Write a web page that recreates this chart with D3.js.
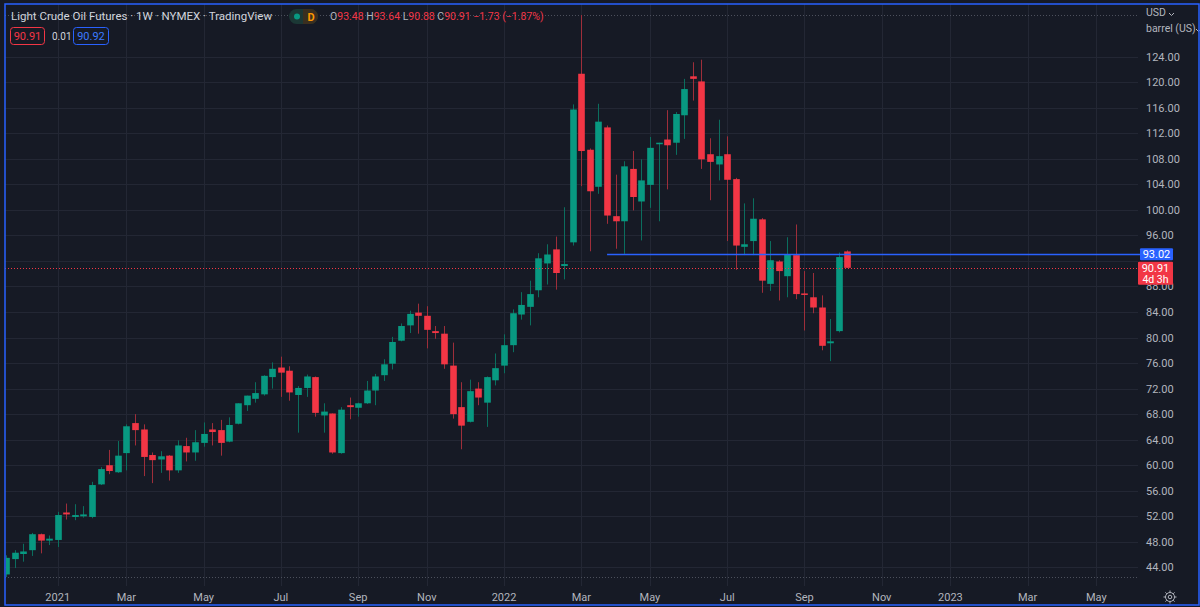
<!DOCTYPE html>
<html>
<head>
<meta charset="utf-8">
<script src="https://cdn.jsdelivr.net/npm/d3@7"></script>
<style>
    html, body { margin: 0; padding: 0; background: #161a25; }
    #chart { width: 1200px; height: 607px; }
    svg { display: block; font-family: Roboto, "Noto Sans", sans-serif; }
</style>
</head>
<body>
<div id="chart"></div>
<script>

// weekly bars, first bar is the week of 2020-11-23
const firstWeek = "2020-11-23";

const opens = [
    42.9, 45.3, 46.1, 46.7, 49.2, 48.2, 48.3, 52.6, 51.9, 52.0,
    51.9, 57.0, 60.0, 58.9, 61.9, 66.6, 65.6, 61.6, 60.9, 61.5,
    59.2, 63.0, 62.0, 63.5, 65.6, 65.5, 63.7, 66.5, 69.4, 70.4,
    71.1, 73.8, 75.3, 74.8, 71.0, 72.1, 73.8, 67.8, 68.1, 61.9,
    69.4, 69.0, 69.7, 71.7, 74.1, 75.9, 79.5, 81.9, 83.9, 83.4,
    81.0, 80.6, 75.6, 69.1, 66.8, 72.0, 69.8, 73.3, 75.6, 78.8,
    83.6, 84.8, 87.4, 91.6, 93.8, 91.2, 94.9, 121.3, 109.4, 103.6,
    112.9, 99.0, 98.2, 106.4, 101.3, 103.9, 110.3, 111.0, 110.5, 114.8,
    120.9, 120.1, 108.7, 107.1, 108.7, 104.8, 94.2, 95.1, 98.5, 88.4,
    91.9, 89.6, 92.9, 86.9, 86.3, 84.7, 79.1, 81.0, 93.48
];
const highs = [
    45.9, 46.7, 47.7, 49.4, 49.3, 49.0, 52.7, 54.0, 53.9, 53.6,
    57.4, 59.7, 62.4, 63.8, 66.4, 68.0, 66.4, 62.0, 62.2, 61.6,
    63.9, 64.3, 65.5, 66.7, 66.6, 67.1, 67.5, 69.7, 70.9, 73.0,
    74.1, 76.1, 77.0, 75.5, 72.4, 74.2, 73.9, 69.7, 68.1, 69.1,
    70.6, 69.8, 73.2, 74.3, 76.6, 80.1, 82.2, 84.2, 85.3, 84.9,
    81.8, 81.8, 79.2, 73.0, 73.4, 73.0, 73.9, 77.5, 80.5, 84.4,
    87.1, 88.9, 93.2, 94.6, 95.8, 100.4, 116.5, 130.5, 109.6, 116.6,
    113.2, 105.5, 107.6, 109.2, 107.9, 111.4, 110.5, 115.6, 115.3, 120.5,
    123.1, 123.5, 111.2, 114.1, 111.5, 105.0, 101.0, 101.8, 98.7, 95.1,
    92.1, 95.7, 97.7, 90.4, 90.1, 86.6, 82.9, 93.3, 93.64
];
const lows = [
    42.5, 43.9, 44.9, 45.8, 46.2, 47.5, 47.2, 51.5, 51.4, 51.8,
    51.7, 56.9, 58.6, 58.8, 59.2, 63.1, 58.3, 57.2, 58.8, 57.6,
    58.8, 60.6, 60.7, 62.9, 63.1, 61.5, 63.6, 66.4, 68.5, 69.8,
    70.9, 72.0, 70.7, 70.1, 65.1, 70.7, 67.6, 65.1, 61.8, 61.8,
    67.2, 67.6, 69.6, 69.4, 73.2, 75.0, 79.4, 80.7, 80.6, 78.3,
    79.8, 75.1, 67.3, 62.5, 66.7, 69.4, 66.0, 72.5, 74.4, 77.7,
    82.8, 81.9, 86.3, 88.3, 87.5, 89.1, 94.4, 103.7, 93.5, 102.5,
    97.8, 93.9, 93.1, 99.9, 95.2, 100.3, 98.2, 103.2, 108.6, 111.1,
    117.1, 106.4, 101.5, 104.6, 95.1, 90.6, 92.9, 92.9, 87.0, 87.3,
    85.8, 86.3, 86.0, 81.1, 83.8, 78.0, 76.3, 80.8, 90.88
];
const closes = [
    45.5, 46.3, 46.5, 49.2, 48.2, 48.5, 52.2, 52.3, 52.2, 52.3,
    56.9, 59.4, 59.1, 61.5, 66.1, 65.5, 61.3, 60.8, 61.4, 59.2,
    63.1, 62.0, 63.6, 64.9, 65.2, 63.5, 66.3, 69.7, 70.9, 71.3,
    74.0, 75.1, 74.5, 71.4, 72.1, 73.9, 68.2, 68.4, 62.0, 68.7,
    69.1, 69.7, 71.7, 73.9, 75.8, 79.3, 81.8, 83.7, 83.4, 81.2,
    80.7, 75.8, 68.0, 66.2, 71.6, 70.6, 73.8, 75.2, 78.8, 83.8,
    85.1, 86.8, 92.4, 93.0, 90.1, 91.5, 115.7, 109.2, 102.9, 113.8,
    99.1, 98.2, 106.8, 102.0, 104.6, 109.7, 110.5, 110.1, 115.0, 118.9,
    120.5, 107.9, 107.5, 108.4, 104.7, 94.4, 94.6, 98.6, 88.9, 92.1,
    90.4, 93.0, 86.8, 86.7, 84.7, 78.7, 79.4, 92.6, 90.91
];

// price scale ticks (right axis)
const priceTicks = [44, 48, 52, 56, 60, 64, 68, 72, 76, 80, 84, 88, 92, 96, 100, 104, 108, 112, 116, 120, 124];

// time scale ticks: month and label
const timeTickMonths = ["2021-01", "2021-03", "2021-05", "2021-07", "2021-09", "2021-11",
    "2022-01", "2022-03", "2022-05", "2022-07", "2022-09", "2022-11",
    "2023-01", "2023-03", "2023-05"];
const timeTickLabels = ["2021", "Mar", "May", "Jul", "Sep", "Nov",
    "2022", "Mar", "May", "Jul", "Sep", "Nov",
    "2023", "Mar", "May"];

// drawn horizontal ray and price tags
const rayStart = "2022-03-28";
const rayPrice = 93.02;
const lastPrice = 90.91;
const bidPrice = 90.92;
const spread = "0.01";
const countdown = "4d 3h";

// header
const title = "Light Crude Oil Futures · 1W · NYMEX · TradingView";
const headerChange = "\u22121.73 (\u22121.87%)";


class CandleChart {

    constructor(parentElement) {
        this.parentElement = parentElement;
        let parse = d3.timeParse("%Y-%m-%d");
        let weeks = d3.timeMonday.range(parse(firstWeek), d3.timeWeek.offset(parse(firstWeek), opens.length));
        this.data = weeks.map((d, i) => ({
            date: d, open: opens[i], high: highs[i], low: lows[i], close: closes[i]
        }));

        this.initVis();
    }

    initVis() {
        let vis = this;

        vis.width = 1200;
        vis.height = 607;
        vis.plot = {left: 5, right: 1138, top: 4, bottom: 586};

        vis.bg = "#161a25";
        vis.grid = "#232734";
        vis.textColor = "#b2b5be";
        vis.up = "#089981";
        vis.down = "#f23645";
        vis.upWick = "#0b6e5e";
        vis.downWick = "#9e2e3a";
        vis.blue = "#2962ff";

        vis.svg = d3.select("#" + vis.parentElement).append("svg")
            .attr("width", vis.width)
            .attr("height", vis.height);

        vis.svg.append("rect")
            .attr("width", vis.width)
            .attr("height", vis.height)
            .attr("fill", vis.bg);

        let first = vis.data[0].date;
        let last = vis.data[vis.data.length - 1].date;

        vis.x = d3.scaleTime()
            .domain([d3.timeDay.offset(first, -1), d3.timeDay.offset(last, 237)])
            .range([vis.plot.left, vis.plot.right]);

        vis.y = d3.scaleLinear()
            .domain([d3.min(lows), d3.max(highs)])
            .range([577, 15]);

        vis.svg.append("clipPath")
            .attr("id", "plot-clip")
            .append("rect")
            .attr("x", vis.plot.left + 1)
            .attr("y", vis.plot.top)
            .attr("width", vis.plot.right - vis.plot.left)
            .attr("height", vis.plot.bottom - vis.plot.top);

        vis.timeTicks = timeTickMonths.map(m => d3.timeMonday.ceil(d3.timeParse("%Y-%m")(m)));

        // grid
        vis.svg.append("g")
            .selectAll("line")
            .data(priceTicks)
            .join("line")
            .attr("x1", vis.plot.left)
            .attr("x2", vis.plot.right)
            .attr("y1", d => Math.round(vis.y(d)) + 0.5)
            .attr("y2", d => Math.round(vis.y(d)) + 0.5)
            .attr("stroke", vis.grid);

        vis.svg.append("g")
            .selectAll("line")
            .data(vis.timeTicks)
            .join("line")
            .attr("x1", d => Math.round(vis.x(d)) + 0.5)
            .attr("x2", d => Math.round(vis.x(d)) + 0.5)
            .attr("y1", vis.plot.top)
            .attr("y2", vis.plot.bottom)
            .attr("stroke", vis.grid);

        // high / low markers of the visible range
        vis.svg.append("g")
            .selectAll("line")
            .data([d3.max(highs), d3.min(lows)])
            .join("line")
            .attr("x1", vis.plot.left)
            .attr("x2", vis.plot.right)
            .attr("y1", d => Math.round(vis.y(d)) + 0.5)
            .attr("y2", d => Math.round(vis.y(d)) + 0.5)
            .attr("stroke", "#4c505c")
            .attr("stroke-dasharray", "1,2");

        vis.candles = vis.svg.append("g").attr("clip-path", "url(#plot-clip)");
        vis.barWidth = (vis.x(d3.timeWeek.offset(first, 1)) - vis.x(first)) * 0.77;

        // current price line
        vis.svg.append("line")
            .attr("x1", vis.plot.left)
            .attr("x2", vis.plot.right)
            .attr("y1", Math.round(vis.y(lastPrice)) + 0.5)
            .attr("y2", Math.round(vis.y(lastPrice)) + 0.5)
            .attr("stroke", vis.down)
            .attr("stroke-dasharray", "1,2");

        this.wrangleData();
    }

    wrangleData() {
        let vis = this;

        vis.displayData = vis.data.map(d => Object.assign({up: d.close >= d.open}, d));

        this.updateVis();
    }

    updateVis() {
        let vis = this;

        // wicks
        vis.candles.selectAll(".wick")
            .data(vis.displayData)
            .join("line")
            .attr("class", "wick")
            .attr("x1", d => Math.round(vis.x(d.date)) + 0.5)
            .attr("x2", d => Math.round(vis.x(d.date)) + 0.5)
            .attr("y1", d => vis.y(d.high))
            .attr("y2", d => vis.y(d.low))
            .attr("stroke", d => d.up ? vis.upWick : vis.downWick);

        // bodies
        vis.candles.selectAll(".body")
            .data(vis.displayData)
            .join("rect")
            .attr("class", "body")
            .attr("x", d => Math.round(vis.x(d.date)) + 0.5 - vis.barWidth / 2)
            .attr("width", vis.barWidth)
            .attr("y", d => vis.y(Math.max(d.open, d.close)))
            .attr("height", d => Math.max(1.5, Math.abs(vis.y(d.open) - vis.y(d.close))))
            .attr("fill", d => d.up ? vis.up : vis.down);

        // horizontal ray
        let rayY = Math.round(vis.y(rayPrice)) + 0.5;
        vis.svg.append("line")
            .attr("x1", vis.x(d3.timeParse("%Y-%m-%d")(rayStart)))
            .attr("x2", vis.plot.right + 2)
            .attr("y1", rayY)
            .attr("y2", rayY)
            .attr("stroke", vis.blue)
            .attr("stroke-width", 1.5);

        vis.drawPriceAxis();
        vis.drawTimeAxis();
        vis.drawHeader();

        // selected pane frame
        vis.svg.append("rect")
            .attr("x", 5)
            .attr("y", 4)
            .attr("width", 1194)
            .attr("height", 601)
            .attr("fill", "none")
            .attr("stroke", vis.blue)
            .attr("stroke-width", 1.5);
    }

    drawPriceAxis() {
        let vis = this;
        let axisX = vis.plot.right + 8;
        let tagY = [vis.y(rayPrice), vis.y(lastPrice) + 5];

        vis.svg.append("g")
            .selectAll("text")
            .data(priceTicks.filter(t => tagY.every(ty => Math.abs(vis.y(t) - ty) > 12)))
            .join("text")
            .attr("x", axisX)
            .attr("y", d => vis.y(d) + 4)
            .attr("font-size", 11)
            .attr("fill", vis.textColor)
            .text(d => d3.format(".2f")(d));

        // currency / unit
        let unit = vis.svg.append("g").attr("fill", vis.textColor).attr("font-size", 10.5);
        unit.append("text").attr("x", axisX).attr("y", 16).text("USD");
        unit.append("text").attr("x", axisX).attr("y", 32).text("barrel (US)");
        [[axisX + 23, 13], [axisX + 50, 29]].forEach(p => {
            vis.svg.append("path")
                .attr("d", `M${p[0]},${p[1]} l2.5,2.5 l2.5,-2.5`)
                .attr("fill", "none")
                .attr("stroke", vis.textColor)
                .attr("stroke-width", 1);
        });

        // ray price tag
        let ry = vis.y(rayPrice);
        vis.svg.append("rect")
            .attr("x", vis.plot.right + 2)
            .attr("y", ry - 6)
            .attr("width", 33)
            .attr("height", 12)
            .attr("rx", 1)
            .attr("fill", vis.blue);
        vis.svg.append("text")
            .attr("x", vis.plot.right + 18.5)
            .attr("y", ry + 4)
            .attr("text-anchor", "middle")
            .attr("font-size", 11)
            .attr("fill", "#ffffff")
            .text(d3.format(".2f")(rayPrice));

        // last price tag with countdown
        let ly = vis.y(lastPrice);
        vis.svg.append("rect")
            .attr("x", vis.plot.right)
            .attr("y", ly - 6)
            .attr("width", 35)
            .attr("height", 23)
            .attr("rx", 1)
            .attr("fill", vis.down);
        vis.svg.append("text")
            .attr("x", vis.plot.right + 17.5)
            .attr("y", ly + 4)
            .attr("text-anchor", "middle")
            .attr("font-size", 11)
            .attr("fill", "#ffffff")
            .text(d3.format(".2f")(lastPrice));
        vis.svg.append("text")
            .attr("x", vis.plot.right + 17.5)
            .attr("y", ly + 15)
            .attr("text-anchor", "middle")
            .attr("font-size", 10.5)
            .attr("fill", "#ffffff")
            .text(countdown);
    }

    drawTimeAxis() {
        let vis = this;

        vis.svg.append("g")
            .selectAll("text")
            .data(vis.timeTicks)
            .join("text")
            .attr("x", d => vis.x(d))
            .attr("y", 601)
            .attr("text-anchor", "middle")
            .attr("font-size", 11)
            .attr("fill", vis.textColor)
            .text((d, i) => timeTickLabels[i]);

        // settings gear
        let gear = vis.svg.append("g")
            .attr("transform", "translate(1170, 597)")
            .attr("stroke", vis.textColor)
            .attr("fill", "none");
        gear.append("circle").attr("r", 4.5);
        gear.append("circle").attr("r", 1.8);
        d3.range(8).forEach(i => {
            let a = i * Math.PI / 4;
            gear.append("line")
                .attr("x1", Math.cos(a) * 4.5).attr("y1", Math.sin(a) * 4.5)
                .attr("x2", Math.cos(a) * 6.5).attr("y2", Math.sin(a) * 6.5);
        });
    }

    drawHeader() {
        let vis = this;
        let bar = vis.displayData[vis.displayData.length - 1];
        let fmt = d3.format(".2f");

        vis.svg.append("text")
            .attr("x", 11)
            .attr("y", 20)
            .attr("font-size", 11.5)
            .attr("fill", "#d1d4dc")
            .text(title);

        // market status pill
        vis.svg.append("rect")
            .attr("x", 289).attr("y", 9).attr("width", 29).attr("height", 15).attr("rx", 7.5)
            .attr("fill", "#1b3835");
        vis.svg.append("path")
            .attr("d", "M303,9 h7.5 a7.5,7.5 0 0 1 0,15 h-7.5 z")
            .attr("fill", "#3a2f1f");
        vis.svg.append("circle")
            .attr("cx", 297).attr("cy", 16.5).attr("r", 3)
            .attr("fill", vis.up);
        vis.svg.append("text")
            .attr("x", 311).attr("y", 21)
            .attr("text-anchor", "middle")
            .attr("font-size", 11)
            .attr("font-weight", "bold")
            .attr("fill", "#ff9800")
            .text("D");

        let ohlc = vis.svg.append("text")
            .attr("x", 330)
            .attr("y", 20)
            .attr("font-size", 10.5);
        [["O", bar.open], ["H", bar.high], ["L", bar.low], ["C", bar.close]].forEach((p, i) => {
            ohlc.append("tspan").attr("fill", vis.textColor).text((i ? " " : "") + p[0]);
            ohlc.append("tspan").attr("fill", vis.down).text(fmt(p[1]));
        });
        ohlc.append("tspan").attr("fill", vis.down).text(" " + headerChange);

        // bid / spread / ask
        vis.svg.append("rect")
            .attr("x", 10.5).attr("y", 27.5).attr("width", 34).attr("height", 17).attr("rx", 3)
            .attr("fill", "none").attr("stroke", vis.down);
        vis.svg.append("text")
            .attr("x", 27.5).attr("y", 40)
            .attr("text-anchor", "middle").attr("font-size", 11)
            .attr("fill", vis.down)
            .text(fmt(lastPrice));
        vis.svg.append("text")
            .attr("x", 52).attr("y", 40)
            .attr("font-size", 10).attr("fill", "#d1d4dc")
            .text(spread);
        vis.svg.append("rect")
            .attr("x", 73.5).attr("y", 27.5).attr("width", 35).attr("height", 17).attr("rx", 3)
            .attr("fill", "none").attr("stroke", vis.blue);
        vis.svg.append("text")
            .attr("x", 91).attr("y", 40)
            .attr("text-anchor", "middle").attr("font-size", 11)
            .attr("fill", "#3b7bff")
            .text(fmt(bidPrice));
    }

}

new CandleChart("chart");

</script>
</body>
</html>
